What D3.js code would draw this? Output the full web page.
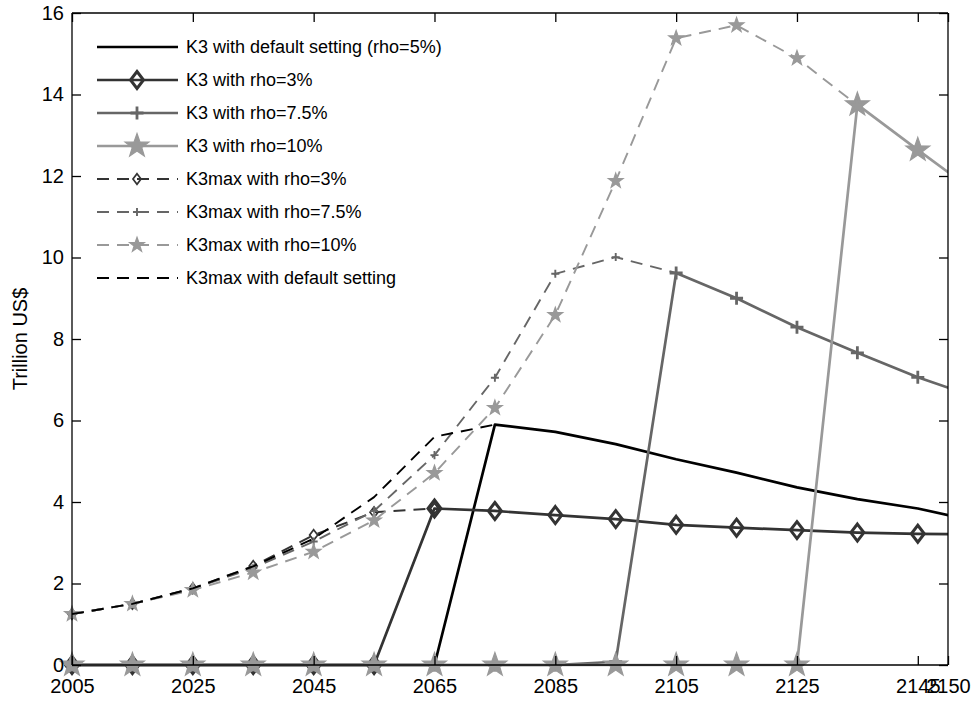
<!DOCTYPE html>
<html><head><meta charset="utf-8">
<script src="https://cdn.jsdelivr.net/npm/d3@7"></script>
<style>body{margin:0;background:#fff}svg{display:block}</style>
</head><body>
<svg id="c" width="976" height="702"></svg>
<script>
// ---------- data ----------
const years = [2005,2015,2025,2035,2045,2055,2065,2075,2085,2095,2105,2115,2125,2135,2145,2155];
const k3Default   = [0,0,0,0,0,0,0,5.9,5.72,5.42,5.05,4.72,4.36,4.07,3.84,3.52];
const k3Rho3      = [0,0,0,0,0,0,3.84,3.78,3.68,3.58,3.44,3.37,3.31,3.25,3.22,3.2];
const k3Rho75     = [0,0,0,0,0,0,0,0,0,0.08,9.62,9.0,8.29,7.66,7.06,6.55];
const k3Rho10     = [0,0,0,0,0,0,0,0,0,0,0,0,0,13.75,12.64,11.55];
const k3maxRho3   = [1.25,1.5,1.88,2.43,3.19,3.75,3.84,null,null,null,null,null,null,null,null,null];
const k3maxRho75  = [1.25,1.5,1.87,2.38,3.03,3.78,5.15,7.05,9.6,10.01,9.62,null,null,null,null,null];
const k3maxRho10  = [1.25,1.5,1.84,2.27,2.78,3.55,4.71,6.31,8.59,11.88,15.38,15.7,14.89,13.74,null,null];
const k3maxDefault= [1.25,1.5,1.88,2.42,3.1,4.12,5.6,5.9,null,null,null,null,null,null,null,null];
const seriesLabels = [
  "K3 with default setting (rho=5%)",
  "K3 with rho=3%",
  "K3 with rho=7.5%",
  "K3 with rho=10%",
  "K3max with rho=3%",
  "K3max with rho=7.5%",
  "K3max with rho=10%",
  "K3max with default setting"
];
const xTicks = [2005,2025,2045,2065,2085,2105,2125,2145,2150];
const yTicks = [0,2,4,6,8,10,12,14,16];
const yLabel = "Trillion US$";

// ---------- style ----------
const series = [
  {label:seriesLabels[0], values:k3Default,   color:"#000000", dash:null,  marker:null,      lw:2.7, ms:0},
  {label:seriesLabels[1], values:k3Rho3,      color:"#333333", dash:null,  marker:"diamond", lw:2.7, ms:1},
  {label:seriesLabels[2], values:k3Rho75,     color:"#666666", dash:null,  marker:"plus",    lw:2.7, ms:1},
  {label:seriesLabels[3], values:k3Rho10,     color:"#999999", dash:null,  marker:"star",    lw:2.7, ms:1},
  {label:seriesLabels[4], values:k3maxRho3,   color:"#333333", dash:"12,8",marker:"diamond", lw:1.9, ms:0.62},
  {label:seriesLabels[5], values:k3maxRho75,  color:"#666666", dash:"12,8",marker:"plus",    lw:1.9, ms:0.62},
  {label:seriesLabels[6], values:k3maxRho10,  color:"#999999", dash:"12,8",marker:"star",    lw:1.9, ms:0.62},
  {label:seriesLabels[7], values:k3maxDefault,color:"#000000", dash:"12,8",marker:null,      lw:1.9, ms:0}
];

const L=72, R=948, T=13, B=665;
const x = d3.scaleLinear().domain([2005,2150]).range([L,R]);
const y = d3.scaleLinear().domain([0,16]).range([B,T]);
const svg = d3.select("#c");
const FONT = "'Liberation Sans', Arial, Helvetica, sans-serif";

svg.append("defs").append("clipPath").attr("id","clip")
  .append("rect").attr("x",L).attr("y",T-20).attr("width",R-L).attr("height",B-T+40);

function starPath(r){
  const pts=[]; const ri=r*0.4;
  for(let i=0;i<10;i++){
    const a=-Math.PI/2+i*Math.PI/5; const rr=i%2?ri:r;
    pts.push([rr*Math.cos(a), rr*Math.sin(a)]);
  }
  return "M"+pts.map(p=>p[0].toFixed(2)+","+p[1].toFixed(2)).join("L")+"Z";
}
function drawMarker(g, type, cx, cy, color, s){
  if(type==="diamond"){
    const hw=6.5*s, hh=8.5*s;
    g.append("path").attr("d",`M${cx},${cy-hh}L${cx+hw},${cy}L${cx},${cy+hh}L${cx-hw},${cy}Z`)
      .attr("fill","none").attr("stroke",color).attr("stroke-width",s<1?1.7:3);
  } else if(type==="plus"){
    const h=6.5*s;
    g.append("path").attr("d",`M${cx-h},${cy}H${cx+h}M${cx},${cy-h}V${cy+h}`)
      .attr("fill","none").attr("stroke",color).attr("stroke-width",s<1?1.9:2.8);
  } else if(type==="star"){
    g.append("path").attr("d",starPath(12.5*s)).attr("transform",`translate(${cx},${cy})`)
      .attr("fill",color).attr("stroke",color).attr("stroke-width",1.2);
  }
}

// plot
const plot = svg.append("g");
const line = d3.line().defined(d=>d.v!==null).x(d=>x(d.yr)).y(d=>y(d.v));
series.forEach(s=>{
  const data = years.map((yr,i)=>({yr, v:s.values[i]}));
  const g = plot.append("g");
  g.append("path").datum(data).attr("d",line).attr("clip-path","url(#clip)")
    .attr("fill","none").attr("stroke",s.color).attr("stroke-width",s.lw)
    .attr("stroke-dasharray",s.dash).attr("stroke-linejoin","round");
  if(s.marker){
    data.filter(d=>d.v!==null && d.yr<=2150).forEach(d=>drawMarker(g,s.marker,x(d.yr),y(d.v),s.color,s.ms));
  }
});

// axes box + ticks (inward, all sides)
const ax = svg.append("g").attr("font-family",FONT);
const xb = ax.append("g").attr("transform",`translate(0,${B})`)
  .call(d3.axisBottom(x).tickValues(xTicks).tickSize(-9).tickPadding(14).tickFormat(d3.format("d")));
const xt = ax.append("g").attr("transform",`translate(0,${T})`)
  .call(d3.axisTop(x).tickValues(xTicks).tickSize(-9).tickFormat(""));
const yl = ax.append("g").attr("transform",`translate(${L},0)`)
  .call(d3.axisLeft(y).tickValues(yTicks).tickSize(-9).tickPadding(8).tickFormat(d3.format("d")));
const yr = ax.append("g").attr("transform",`translate(${R},0)`)
  .call(d3.axisRight(y).tickValues(yTicks).tickSize(-9).tickFormat(""));
[xb,xt,yl,yr].forEach(g=>{
  g.select(".domain").attr("stroke","#000").attr("stroke-width",1.3);
  g.selectAll(".tick line").attr("stroke","#000").attr("stroke-width",1.3);
  g.selectAll("text").attr("fill","#000").attr("font-size",20).attr("font-family",FONT);
});
xb.selectAll(".domain").attr("d",`M${L},0H${R}`);
xt.selectAll(".domain").attr("d",`M${L},0H${R}`);
yl.selectAll(".domain").attr("d",`M0,${B}V${T}`);
yr.selectAll(".domain").attr("d",`M0,${B}V${T}`);

// y label
svg.append("text").attr("transform",`translate(27,${(T+B)/2}) rotate(-90)`)
  .attr("text-anchor","middle").attr("font-family",FONT).attr("font-size",20).text(yLabel);

// legend
const lg = svg.append("g").attr("font-family",FONT);
series.forEach((s,i)=>{
  const cy = 47 + i*33;
  lg.append("path").attr("d",`M97,${cy}H178`).attr("fill","none").attr("stroke",s.color)
    .attr("stroke-width",s.lw).attr("stroke-dasharray",s.dash);
  if(s.marker) drawMarker(lg,s.marker,137,cy,s.color,s.ms);
  lg.append("text").attr("x",186).attr("y",cy).attr("dy","0.36em").attr("font-size",18).text(s.label);
});
</script>
</body></html>
